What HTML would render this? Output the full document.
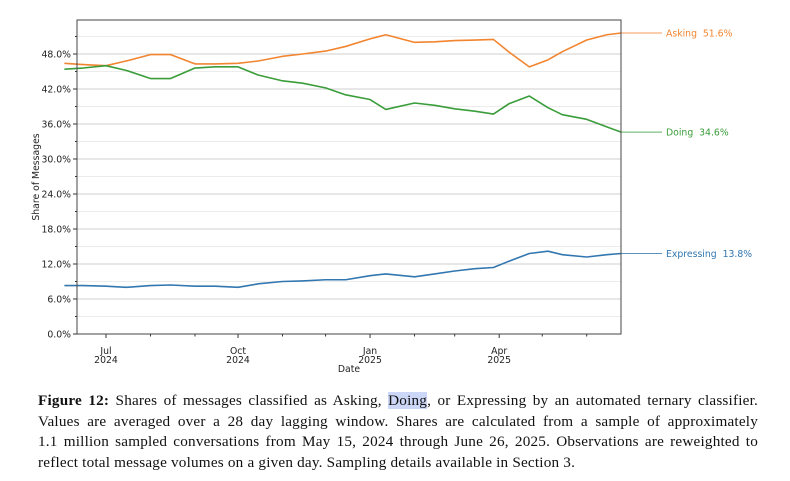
<!DOCTYPE html>
<html><head><meta charset="utf-8"><style>
body{margin:0;background:#fff;width:790px;height:481px;overflow:hidden}
svg text{font-family:"DejaVu Sans","Liberation Sans",sans-serif}
#cap{position:absolute;left:38px;top:391px;width:720px;font-family:"Liberation Serif",serif;font-size:15.2px;letter-spacing:0.2px;line-height:20.5px;color:#111}
#cap .ln{display:block;text-align:justify;text-align-last:justify;white-space:nowrap}
#cap .ln.last{text-align-last:left}
</style></head><body>
<svg id="chart" width="790" height="390" style="position:absolute;left:0;top:0"></svg>
<div id="cap"><span class="ln"><b>Figure 12:</b> Shares of messages classified as Asking, <span style="background:#ccd6f6">Doing</span>, or Expressing by an automated ternary classifier.</span><span class="ln">Values are averaged over a 28 day lagging window. Shares are calculated from a sample of approximately</span><span class="ln">1.1 million sampled conversations from May 15, 2024 through June 26, 2025. Observations are reweighted to</span><span class="ln last">reflect total message volumes on a given day. Sampling details available in Section 3.</span></div>
<script>
const dates=["2024-06-02","2024-06-15","2024-07-01","2024-07-15","2024-08-01","2024-08-15","2024-09-01","2024-09-15","2024-10-01","2024-10-15","2024-11-01","2024-11-15","2024-12-01","2024-12-15","2025-01-01","2025-01-12","2025-02-01","2025-02-15","2025-03-01","2025-03-15","2025-03-28","2025-04-08","2025-04-22","2025-05-05","2025-05-15","2025-06-01","2025-06-15","2025-06-25"];
const asking=[46.4,46.2,46.0,46.8,47.9,47.9,46.3,46.3,46.4,46.8,47.6,48.0,48.5,49.3,50.6,51.3,50.0,50.1,50.3,50.4,50.5,48.3,45.8,47.0,48.4,50.4,51.3,51.6];
const doing=[45.4,45.6,46.0,45.2,43.8,43.8,45.6,45.8,45.8,44.4,43.4,43.0,42.2,41.0,40.2,38.5,39.6,39.2,38.6,38.2,37.7,39.5,40.8,38.8,37.6,36.8,35.5,34.6];
const expressing=[8.3,8.3,8.2,8.0,8.3,8.4,8.2,8.2,8.0,8.6,9.0,9.1,9.3,9.3,10.0,10.3,9.8,10.3,10.8,11.2,11.4,12.5,13.8,14.2,13.6,13.2,13.6,13.8];
const yTicks=[0,6,12,18,24,30,36,42,48];
const xTicks=[["2024-07-01","Jul","2024"],["2024-10-01","Oct","2024"],["2025-01-01","Jan","2025"],["2025-04-01","Apr","2025"]];
const minorMonths=["2024-08-01","2024-09-01","2024-11-01","2024-12-01","2025-02-01","2025-03-01","2025-05-01","2025-06-01"];
const L=77,R=621,T=20,B=334;
const d0=new Date("2024-07-01").getTime();
const X=d=>106+(new Date(d).getTime()-d0)/864e5*1.435;
const Y=v=>B-v*5.833;
const svg=document.getElementById('chart');const NS="http://www.w3.org/2000/svg";
function mk(t,a,txt){const e=document.createElementNS(NS,t);for(const k in a)e.setAttribute(k,a[k]);if(txt!=null)e.textContent=txt;svg.appendChild(e);return e;}
for(let v=3;v<54;v+=6){const g=mk('line',{x1:L,x2:R,y1:Y(v),y2:Y(v),stroke:'#ececec','stroke-width':1});

}
yTicks.forEach(v=>{const g=mk('line',{x1:L,x2:R,y1:Y(v),y2:Y(v),stroke:'#cfcfcf','stroke-width':1});


mk('line',{x1:L-4,x2:L,y1:Y(v),y2:Y(v),stroke:'#333'});
const t=mk('text',{x:L-6,y:Y(v)+3.5,'text-anchor':'end','font-size':9.3,fill:'#222'},v.toFixed(1)+'%');

});
for(let v=3;v<54;v+=6)mk('line',{x1:L-2,x2:L,y1:Y(v),y2:Y(v),stroke:'#333'});
xTicks.forEach(([d,m,y])=>{const x=X(d);mk('line',{x1:x,x2:x,y1:B,y2:B+4,stroke:'#333'});
const t=mk('text',{x:x,y:B+20,'text-anchor':'middle','font-size':9.3,fill:'#222'},m);


const t2=mk('text',{x:x,y:B+29,'text-anchor':'middle','font-size':9.3,fill:'#222'},y);

});
minorMonths.forEach(d=>mk('line',{x1:X(d),x2:X(d),y1:B,y2:B+2.5,stroke:'#333'}));
const series=[[asking,'#f28530','Asking'],[doing,'#3a9d3a','Doing'],[expressing,'#3277b0','Expressing']];
series.forEach(([s,c,n])=>{const p=mk('polyline',{points:s.map((v,i)=>X(dates[i])+','+Y(v)).join(' '),fill:'none',stroke:c,'stroke-width':1.6,'stroke-linejoin':'round'});


const last=s[s.length-1];
mk('line',{x1:R,x2:662,y1:Y(last),y2:Y(last),stroke:c,'stroke-width':1,opacity:0.8});
const t=mk('text',{x:666,y:Y(last)+3.5,'font-size':9.3,fill:c},n+'\u00a0\u00a0'+last.toFixed(1)+'%');

});
const fr=mk('rect',{x:L,y:T,width:R-L,height:B-T,fill:'none',stroke:'#444','stroke-width':1});


const yt=mk('text',{x:0,y:0,transform:'translate(39,177) rotate(-90)','text-anchor':'middle','font-size':9.3,fill:'#222'},'Share of Messages');


const xt=mk('text',{x:349,y:372,'text-anchor':'middle','font-size':9.3,fill:'#222'},'Date');


</script>
</body></html>
